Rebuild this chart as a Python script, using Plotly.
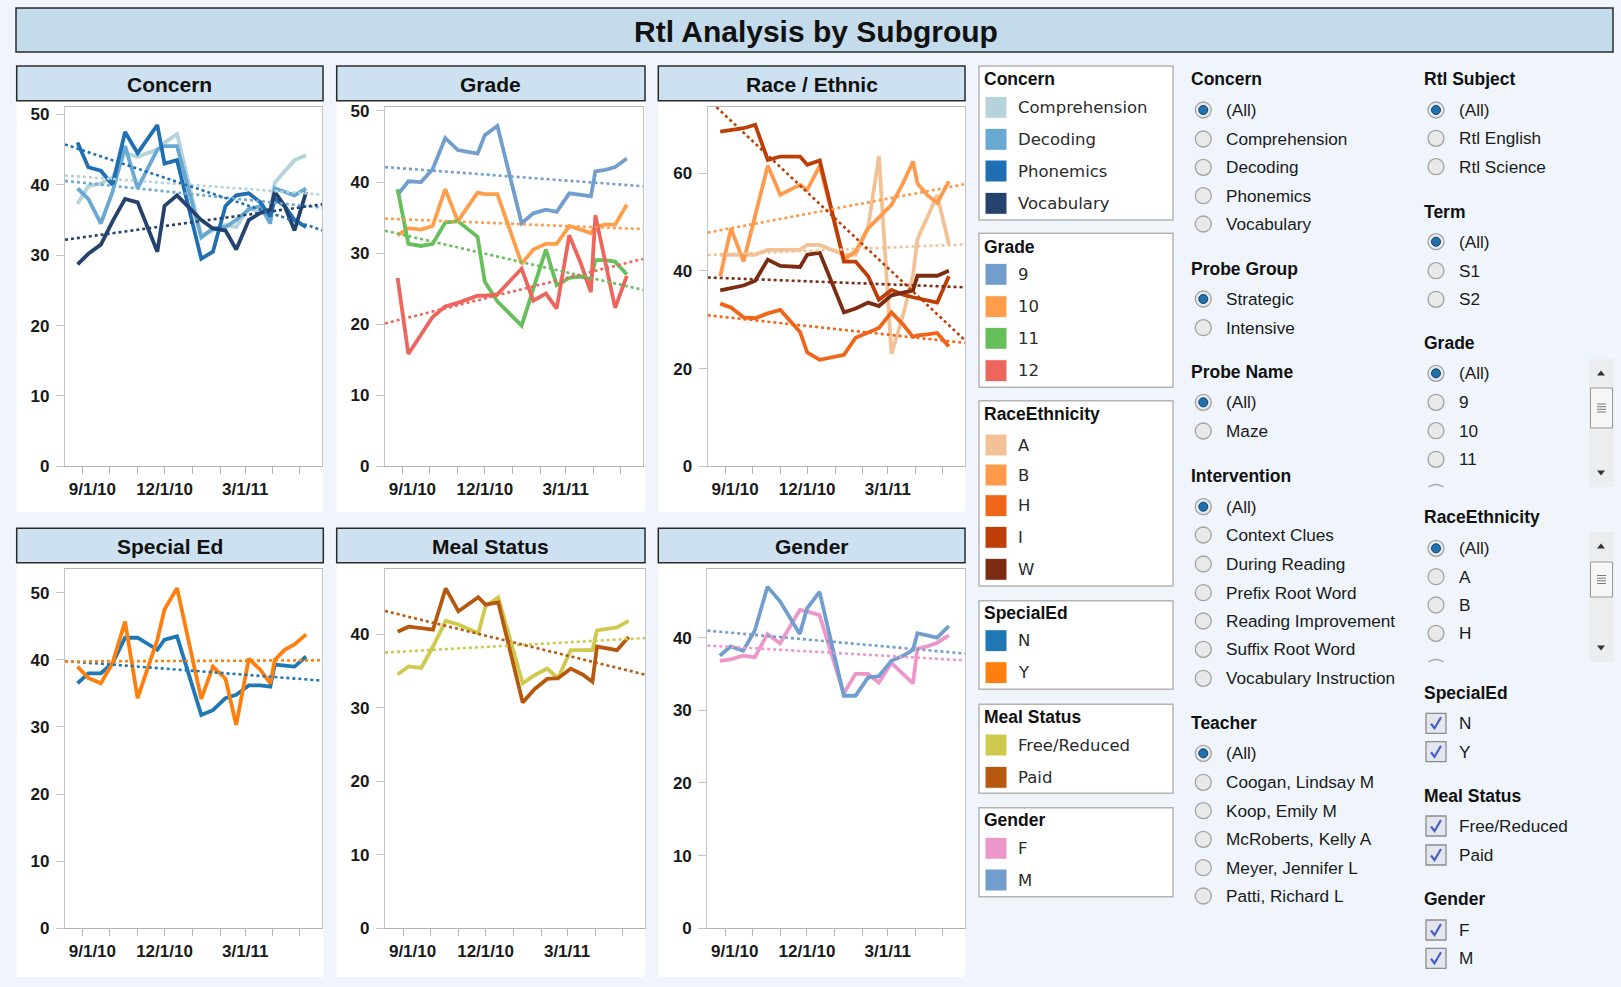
import numpy as np
import pandas as pd
import plotly.graph_objects as go

# ---------------- data ----------------
dates = ['2010-08-26', '2010-09-07', '2010-09-21', '2010-10-04', '2010-10-18', '2010-11-01',
         '2010-11-23', '2010-12-01', '2010-12-15', '2011-01-11', '2011-01-24', '2011-02-07',
         '2011-02-19', '2011-03-05', '2011-03-18', '2011-03-29', '2011-04-03', '2011-04-14',
         '2011-04-25', '2011-05-08']

concern_comprehension = [37.3, 39.8, 40.2, 41.0, 44.5, 44.0, 45.0, 46.0, 47.2, 32.8, 33.5, 34.3, 34.0, 36.8, 36.0, 36.0, 40.3, 42.0, 43.5, 44.2]
concern_decoding = [39.5, 38.0, 34.5, 39.0, 45.5, 39.5, 45.0, 45.5, 45.5, 32.5, 33.8, 34.0, 35.0, 36.5, 37.0, 34.5, 39.5, 39.0, 38.5, 39.5]
concern_phonemics = [46.0, 42.5, 42.0, 40.0, 47.5, 44.5, 48.5, 43.0, 43.5, 29.5, 30.5, 37.0, 38.5, 38.8, 37.5, 35.5, 38.0, 37.0, 35.0, 34.0]
concern_vocabulary = [28.7, 30.2, 31.5, 34.8, 38.0, 37.5, 30.5, 37.0, 38.5, 35.0, 33.8, 33.5, 30.8, 35.0, 36.0, 36.5, 39.0, 37.0, 33.5, 39.0]

grade_9 = [38.2, 40.1, 40.0, 41.8, 46.2, 44.5, 44.0, 46.6, 47.9, 34.2, 35.6, 36.1, 35.8, 38.4, 38.2, 38.0, 41.5, 41.7, 42.1, 43.3]
grade_10 = [32.5, 33.5, 33.3, 33.8, 39.0, 34.5, 38.5, 38.3, 38.3, 28.5, 30.5, 31.3, 31.3, 33.8, 33.3, 32.8, 33.7, 34.0, 34.0, 36.8]
grade_11 = [39.0, 31.3, 31.0, 31.3, 34.3, 34.5, 32.3, 26.0, 23.2, 19.8, 25.0, 30.5, 25.5, 26.5, 26.7, 26.3, 29.0, 29.0, 28.8, 27.0]
grade_12 = [26.5, 15.8, 18.5, 21.0, 22.5, 23.0, 24.0, 24.0, 24.2, 27.8, 23.3, 24.3, 22.2, 32.5, 28.5, 24.5, 35.3, 28.8, 22.3, 26.8]

race_a = [43.3, 43.3, 43.3, 43.3, 44.3, 44.3, 44.3, 45.3, 45.3, 43.3, 43.3, 49.0, 63.5, 23.0, 31.0, 39.0, 46.5, 51.0, 55.5, 45.5]
race_b = [38.9, 48.7, 41.9, 51.5, 61.5, 55.6, 57.6, 56.6, 61.5, 42.3, 44.0, 48.7, 50.8, 53.5, 58.0, 62.4, 57.9, 55.5, 53.9, 58.3]
race_h = [33.3, 32.5, 30.5, 30.3, 31.3, 32.0, 27.5, 23.3, 21.8, 22.8, 26.3, 27.3, 28.3, 31.5, 29.0, 26.5, 26.8, 27.0, 27.3, 24.5]
race_i = [68.5, 68.8, 69.2, 69.9, 62.7, 63.4, 63.4, 61.7, 62.6, 41.9, 41.9, 38.9, 34.1, 36.1, 35.1, 34.6, 34.4, 34.1, 33.5, 38.9]
race_w = [36.0, 36.5, 37.0, 38.0, 42.3, 41.0, 40.8, 43.3, 43.7, 31.5, 32.3, 33.5, 32.8, 35.0, 35.5, 36.0, 39.0, 39.0, 39.0, 40.0]

sped_n = [36.5, 38.0, 38.0, 39.5, 43.3, 43.3, 41.5, 43.0, 43.5, 31.8, 32.5, 34.3, 34.8, 36.2, 36.2, 36.0, 39.3, 39.2, 39.0, 40.5]
sped_y = [39.0, 37.3, 36.5, 39.5, 45.7, 34.3, 43.0, 47.5, 50.7, 34.2, 39.0, 37.2, 30.3, 40.2, 38.5, 36.5, 40.0, 41.5, 42.3, 43.8]

meal_free = [34.5, 35.6, 35.4, 38.3, 41.8, 41.3, 40.1, 43.8, 45.0, 33.3, 34.4, 35.3, 34.0, 37.8, 37.8, 37.8, 40.5, 40.7, 40.9, 41.8]
meal_paid = [40.3, 41.0, 40.8, 40.6, 46.2, 43.1, 45.0, 44.0, 44.3, 30.7, 32.5, 33.9, 34.0, 35.3, 34.5, 33.5, 38.3, 38.0, 37.8, 39.6]

gender_f = [36.8, 37.0, 37.5, 37.3, 40.5, 39.2, 43.8, 43.6, 43.1, 32.3, 35.0, 35.0, 33.8, 36.5, 35.0, 33.7, 38.5, 38.8, 39.3, 40.3]
gender_m = [37.5, 38.8, 38.2, 41.0, 47.0, 45.0, 40.5, 44.0, 46.3, 32.0, 32.0, 34.5, 34.7, 36.8, 37.5, 38.3, 40.6, 40.3, 40.0, 41.6]

x_range = ['2010-08-12', '2011-05-26']
x_tickvals = ['2010-09-01', '2010-12-01', '2011-03-01']
x_ticktext = ['\u00a0\u00a0\u00a0\u00a09/1/10', '12/1/10', '3/1/11']

# ---------------- styling ----------------
W, H = 1621, 987
BG = '#eff5fb'
HDR = '#cde1f0'
TXT = '#1a1a1a'
SANS = 'Liberation Sans, Arial, sans-serif'
LEGF = 'DejaVu Sans, Verdana, sans-serif'

C = {
    'Comprehension': '#b4d3da', 'Decoding': '#68a9d3', 'Phonemics': '#1f6fb2', 'Vocabulary': '#25426d',
    '9': '#729ece', '10': '#ff9e4a', '11': '#67bf5c', '12': '#ed665d',
    'A': '#f2c296', 'B': '#fe9a4c', 'H': '#ef6519', 'I': '#bd3e06', 'W': '#7b2c12',
    'N': '#1f77b4', 'Y': '#ff7f0e',
    'Free/Reduced': '#cfca4e', 'Paid': '#b6590e',
    'F': '#ed97ca', 'M': '#729ece',
}


def px(x):
    return x / W


def py(y):
    return 1 - y / H


panels = [
    dict(title='Concern', box=(16.7, 66, 323, 100.7), bg_bottom=512, dom_x=(65, 322.3), dom_y=(106.7, 466.3),
         yr=51.1, yt=[0, 10, 20, 30, 40, 50],
         series=[('Comprehension', concern_comprehension), ('Decoding', concern_decoding),
                 ('Phonemics', concern_phonemics), ('Vocabulary', concern_vocabulary)]),
    dict(title='Grade', box=(336.7, 66, 645, 100.7), bg_bottom=512, dom_x=(385, 643), dom_y=(106.7, 466.3),
         yr=50.6, yt=[0, 10, 20, 30, 40, 50],
         series=[('9', grade_9), ('10', grade_10), ('11', grade_11), ('12', grade_12)]),
    dict(title='Race / Ethnic', box=(658.3, 66, 965, 100.7), bg_bottom=512, dom_x=(707.7, 965), dom_y=(106.7, 466.3),
         yr=73.6, yt=[0, 20, 40, 60],
         series=[('A', race_a), ('B', race_b), ('H', race_h), ('I', race_i), ('W', race_w)]),
    dict(title='Special Ed', box=(16.7, 528.3, 323.3, 562.7), bg_bottom=977, dom_x=(65, 322.3), dom_y=(569.3, 928.3),
         yr=53.5, yt=[0, 10, 20, 30, 40, 50],
         series=[('N', sped_n), ('Y', sped_y)]),
    dict(title='Meal Status', box=(336.7, 528.3, 645, 562.7), bg_bottom=977, dom_x=(385, 645), dom_y=(569.3, 928.3),
         yr=48.8, yt=[0, 10, 20, 30, 40],
         series=[('Free/Reduced', meal_free), ('Paid', meal_paid)]),
    dict(title='Gender', box=(658.3, 528.3, 965, 562.7), bg_bottom=977, dom_x=(707.3, 965), dom_y=(569.3, 928.3),
         yr=49.4, yt=[0, 10, 20, 30, 40],
         series=[('F', gender_f), ('M', gender_m)]),
]

fig = go.Figure()
shapes = []
annotations = []

t = pd.to_datetime(dates)
tn = (t - t[0]).days.values.astype(float)
xr = pd.to_datetime(x_range)
xe = (xr - t[0]).days.values.astype(float)

# title bar
shapes.append(dict(type='rect', xref='paper', yref='paper', x0=px(16), x1=px(1613), y0=py(52), y1=py(8),
                   fillcolor='#c4dbeb', line=dict(color='#2b2b2b', width=1.5), layer='below'))
annotations.append(dict(text='<b>Rtl Analysis by Subgroup</b>', x=px(816), y=py(31), xref='paper', yref='paper',
                        showarrow=False, xanchor='center', yanchor='middle',
                        font=dict(family=SANS, size=30, color='#111')))

for i, p in enumerate(panels):
    n = '' if i == 0 else str(i + 1)
    x0, y0, x1, y1 = p['box']
    # white panel background
    shapes.append(dict(type='rect', xref='paper', yref='paper', x0=px(x0), x1=px(x1), y0=py(p['bg_bottom']), y1=py(y1),
                       fillcolor='white', line=dict(width=0), layer='below'))
    # header
    shapes.append(dict(type='rect', xref='paper', yref='paper', x0=px(x0), x1=px(x1), y0=py(y1), y1=py(y0),
                       fillcolor=HDR, line=dict(color='#2b2b2b', width=1.5), layer='below'))
    annotations.append(dict(text='<b>' + p['title'] + '</b>', x=px((x0 + x1) / 2), y=py((y0 + y1) / 2 + 1),
                            xref='paper', yref='paper', showarrow=False, xanchor='center', yanchor='middle',
                            font=dict(family=SANS, size=21, color='#111')))
    # traces
    for name, vals in p['series']:
        fig.add_trace(go.Scatter(x=dates, y=vals, mode='lines', name=name, showlegend=False,
                                 line=dict(color=C[name], width=3.8), xaxis='x' + n, yaxis='y' + n,
                                 hoverinfo='x+y+name'))
    for name, vals in p['series']:
        coef = np.polyfit(tn, np.array(vals), 1)
        ye = np.polyval(coef, xe)
        fig.add_trace(go.Scatter(x=list(x_range), y=list(ye), mode='lines', showlegend=False,
                                 line=dict(color=C[name], width=2.6, dash='dot'), xaxis='x' + n, yaxis='y' + n,
                                 hoverinfo='skip'))
    dx = [px(p['dom_x'][0]), px(p['dom_x'][1])]
    dy = [py(p['dom_y'][1]), py(p['dom_y'][0])]
    fig.layout['xaxis' + n] = dict(
        domain=dx, anchor='y' + n, type='date', range=x_range, tickmode='array',
        tickvals=x_tickvals, ticktext=x_ticktext, ticks='outside', ticklen=7, tickcolor='#b5b5b5', tickwidth=1,
        minor=dict(tickmode='linear', dtick='M1', tick0='2010-09-01', ticks='outside', ticklen=7,
                   tickcolor='#b5b5b5', showgrid=False),
        showline=True, linecolor='#b5b5b5', linewidth=1.2, mirror=True, showgrid=False, zeroline=False,
        automargin=False, tickfont=dict(family=SANS, size=17, color=TXT, weight='bold'), fixedrange=True)
    fig.layout['yaxis' + n] = dict(
        domain=dy, anchor='x' + n, range=[0, p['yr']], tickvals=p['yt'], ticks='outside', ticklen=8,
        tickcolor='#c4c4c4', showline=True, linecolor='#c4c4c4', linewidth=1.2, mirror=True,
        showgrid=False, zeroline=False, fixedrange=True, automargin=False, ticklabelstandoff=3,
        tickfont=dict(family=SANS, size=17, color=TXT, weight='bold'))

# ---------------- colour legends ----------------
legends = [
    ('Concern', (66, 220), 79.3, [('Comprehension', 107.3), ('Decoding', 139.3), ('Phonemics', 171), ('Vocabulary', 203.3)]),
    ('Grade', (233.3, 387.3), 246.7, [('9', 274.3), ('10', 306.7), ('11', 338.3), ('12', 370.7)]),
    ('RaceEthnicity', (400.7, 586), 414, [('A', 445), ('B', 475), ('H', 505.7), ('I', 537.3), ('W', 569.3)]),
    ('SpecialEd', (600.7, 689.3), 613.3, [('N', 640.7), ('Y', 672.7)]),
    ('Meal Status', (704.3, 793.3), 716.7, [('Free/Reduced', 745), ('Paid', 777.3)]),
    ('Gender', (807.7, 896.7), 820, [('F', 848.3), ('M', 880)]),
]
for title, (b0, b1), ty, items in legends:
    shapes.append(dict(type='rect', xref='paper', yref='paper', x0=px(979), x1=px(1173), y0=py(b1), y1=py(b0),
                       fillcolor='white', line=dict(color='#b4b4b4', width=1.5), layer='below'))
    annotations.append(dict(text='<b>' + title + '</b>', x=px(981.5), y=py(ty), xref='paper', yref='paper',
                            showarrow=False, xanchor='left', yanchor='middle',
                            font=dict(family=SANS, size=17.5, color='#111')))
    for lab, iy in items:
        shapes.append(dict(type='rect', xref='paper', yref='paper', x0=px(985), x1=px(1007), y0=py(iy + 11),
                           y1=py(iy - 11), fillcolor=C[lab], line=dict(color='white', width=1), layer='below'))
        annotations.append(dict(text=lab, x=px(1016), y=py(iy), xref='paper', yref='paper', showarrow=False,
                                xanchor='left', yanchor='middle', font=dict(family=LEGF, size=16.5, color='#2b2b2b')))

# ---------------- filter panels ----------------
col1 = [
    ('Concern', 79.3, 'radio', [('(All)', 110, True), ('Comprehension', 139, False), ('Decoding', 167.3, False),
                                 ('Phonemics', 195.7, False), ('Vocabulary', 224, False)]),
    ('Probe Group', 269, 'radio', [('Strategic', 299, True), ('Intensive', 327.7, False)]),
    ('Probe Name', 372.3, 'radio', [('(All)', 402.3, True), ('Maze', 431, False)]),
    ('Intervention', 476, 'radio', [('(All)', 506.7, True), ('Context Clues', 535, False), ('During Reading', 564, False),
                                     ('Prefix Root Word', 592.7, False), ('Reading Improvement', 621, False),
                                     ('Suffix Root Word', 649.3, False), ('Vocabulary Instruction', 678.3, False)]),
    ('Teacher', 723.3, 'radio', [('(All)', 753.3, True), ('Coogan, Lindsay M', 782.3, False),
                                 ('Koop, Emily M', 810.7, False), ('McRoberts, Kelly A', 839.3, False),
                                 ('Meyer, Jennifer L', 867.7, False), ('Patti, Richard L', 896, False)]),
]
col2 = [
    ('Rtl Subject', 79.3, 'radio', [('(All)', 110, True), ('Rtl English', 138.3, False), ('Rtl Science', 166.7, False)]),
    ('Term', 211.7, 'radio', [('(All)', 241.7, True), ('S1', 270.7, False), ('S2', 299.3, False)]),
    ('Grade', 343.3, 'radio', [('(All)', 373.3, True), ('9', 402.3, False), ('10', 430.7, False), ('11', 459.3, False)]),
    ('RaceEthnicity', 517.3, 'radio', [('(All)', 548.3, True), ('A', 576.7, False), ('B', 605, False), ('H', 633.3, False)]),
    ('SpecialEd', 692.7, 'check', [('N', 723.3, True), ('Y', 751.7, True)]),
    ('Meal Status', 796, 'check', [('Free/Reduced', 826, True), ('Paid', 855, True)]),
    ('Gender', 899.3, 'check', [('F', 930, True), ('M', 958.3, True)]),
]


def add_filters(col, tx, cx, lx):
    for title, ty, kind, items in col:
        annotations.append(dict(text='<b>' + title + '</b>', x=px(tx), y=py(ty), xref='paper', yref='paper',
                                showarrow=False, xanchor='left', yanchor='middle',
                                font=dict(family=SANS, size=17.5, color='#111')))
        for lab, iy, sel in items:
            if kind == 'radio':
                r = 8
                shapes.append(dict(type='circle', xref='paper', yref='paper', x0=px(cx - r), x1=px(cx + r),
                                   y0=py(iy + r), y1=py(iy - r), fillcolor='#e9e9e9',
                                   line=dict(color='#a3a3a3', width=1.3), layer='below'))
                if sel:
                    r2 = 4.5
                    shapes.append(dict(type='circle', xref='paper', yref='paper', x0=px(cx - r2), x1=px(cx + r2),
                                       y0=py(iy + r2), y1=py(iy - r2), fillcolor='#1f72ad',
                                       line=dict(color='#0d3f66', width=1), layer='below'))
            else:
                s = 10
                shapes.append(dict(type='rect', xref='paper', yref='paper', x0=px(cx - s), x1=px(cx + s),
                                   y0=py(iy + s), y1=py(iy - s), fillcolor='#e3e6ee',
                                   line=dict(color='#8c8c8c', width=1.3), layer='below'))
                path = 'M {},{} L {},{} L {},{}'.format(px(cx - 5), py(iy + 0.5), px(cx - 1.5), py(iy + 5),
                                                         px(cx + 5), py(iy - 6))
                shapes.append(dict(type='path', xref='paper', yref='paper', path=path,
                                   line=dict(color='#4660c8', width=2.2), layer='below'))
            annotations.append(dict(text=lab, x=px(lx), y=py(iy), xref='paper', yref='paper', showarrow=False,
                                    xanchor='left', yanchor='middle',
                                    font=dict(family=SANS, size=17.2, color=TXT)))


add_filters(col1, 1189, 1203.3, 1223.7)
add_filters(col2, 1421.5, 1436, 1456.5)

# partially visible list items at the bottom of the scrolled lists
for cy_clip in (487, 662):
    shapes.append(dict(type='path', xref='paper', yref='paper',
                       path='M {},{} Q {},{} {},{}'.format(px(1428.5), py(cy_clip), px(1436), py(cy_clip - 5),
                                                           px(1443.5), py(cy_clip)),
                       line=dict(color='#a3a3a3', width=1.3), layer='below'))

# scrollbars for the list filters
for top, bot, th0, th1 in [(359, 487, 388, 428), (532, 662, 562, 597)]:
    shapes.append(dict(type='rect', xref='paper', yref='paper', x0=px(1589), x1=px(1614), y0=py(bot), y1=py(top),
                       fillcolor='#ebedef', line=dict(width=0), layer='below'))
    shapes.append(dict(type='rect', xref='paper', yref='paper', x0=px(1590.5), x1=px(1612.5), y0=py(th1), y1=py(th0),
                       fillcolor='#f6f6f6', line=dict(color='#9a9a9a', width=1), layer='below'))
    mid = (th0 + th1) / 2
    for d in (-4, -1.3, 1.3, 4):
        shapes.append(dict(type='line', xref='paper', yref='paper', x0=px(1597), x1=px(1606), y0=py(mid + d),
                           y1=py(mid + d), line=dict(color='#7a7a7a', width=1), layer='below'))
    ua, da = top + 14, bot - 14
    shapes.append(dict(type='path', xref='paper', yref='paper',
                       path='M {},{} L {},{} L {},{} Z'.format(px(1597), py(ua + 2.5), px(1605), py(ua + 2.5),
                                                               px(1601), py(ua - 2.5)),
                       fillcolor='#333', line=dict(width=0), layer='below'))
    shapes.append(dict(type='path', xref='paper', yref='paper',
                       path='M {},{} L {},{} L {},{} Z'.format(px(1597), py(da - 2.5), px(1605), py(da - 2.5),
                                                               px(1601), py(da + 2.5)),
                       fillcolor='#333', line=dict(width=0), layer='below'))

fig.update_layout(width=W, height=H, margin=dict(l=0, r=0, t=0, b=0, autoexpand=False), paper_bgcolor=BG,
                  plot_bgcolor='white', shapes=shapes, annotations=annotations, showlegend=False,
                  hovermode='closest')

fig.write_html('out.html', config={'displayModeBar': False},
               post_script="document.body.style.margin='0';document.body.style.overflow='hidden';")
